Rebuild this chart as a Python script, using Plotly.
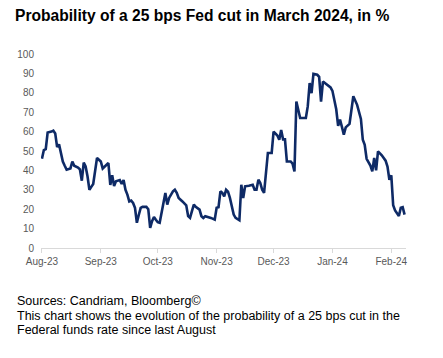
import plotly.graph_objects as go

title_text = "Probability of a 25 bps Fed cut in March 2024, in %"
footnotes = [
    "Sources: Candriam, Bloomberg©",
    "This chart shows the evolution of the probability of a 25 bps cut in the",
    "Federal funds rate since last August",
]

dates = [
    "2023-08-01", "2023-08-02", "2023-08-03", "2023-08-04", "2023-08-06", "2023-08-07", "2023-08-08",
    "2023-08-09", "2023-08-10", "2023-08-11", "2023-08-12", "2023-08-13", "2023-08-14", "2023-08-16",
    "2023-08-17", "2023-08-18", "2023-08-20", "2023-08-21", "2023-08-22", "2023-08-23", "2023-08-24",
    "2023-08-25", "2023-08-26", "2023-08-27", "2023-08-28", "2023-08-30", "2023-09-01", "2023-09-02",
    "2023-09-04", "2023-09-05", "2023-09-06", "2023-09-07", "2023-09-08", "2023-09-09", "2023-09-11",
    "2023-09-12", "2023-09-13", "2023-09-14", "2023-09-15", "2023-09-16", "2023-09-17", "2023-09-18",
    "2023-09-19", "2023-09-20", "2023-09-21", "2023-09-22", "2023-09-23", "2023-09-25", "2023-09-26",
    "2023-09-27", "2023-09-28", "2023-09-29", "2023-09-30", "2023-10-01", "2023-10-02", "2023-10-03",
    "2023-10-04", "2023-10-05", "2023-10-06", "2023-10-07", "2023-10-09", "2023-10-10", "2023-10-11",
    "2023-10-12", "2023-10-14", "2023-10-16", "2023-10-17", "2023-10-18", "2023-10-19", "2023-10-20",
    "2023-10-21", "2023-10-23", "2023-10-24", "2023-10-25", "2023-10-26", "2023-10-28", "2023-10-29",
    "2023-10-31", "2023-11-01", "2023-11-02", "2023-11-03", "2023-11-04", "2023-11-05", "2023-11-06",
    "2023-11-07", "2023-11-08", "2023-11-09", "2023-11-10", "2023-11-11", "2023-11-13", "2023-11-14",
    "2023-11-15", "2023-11-16", "2023-11-17", "2023-11-18", "2023-11-20", "2023-11-21", "2023-11-22",
    "2023-11-23", "2023-11-24", "2023-11-25", "2023-11-26", "2023-11-28", "2023-11-29", "2023-11-30",
    "2023-12-01", "2023-12-03", "2023-12-04", "2023-12-05", "2023-12-06", "2023-12-07", "2023-12-08",
    "2023-12-10", "2023-12-11", "2023-12-12", "2023-12-13", "2023-12-14", "2023-12-15", "2023-12-18",
    "2023-12-19", "2023-12-20", "2023-12-21", "2023-12-22", "2023-12-24", "2023-12-25", "2023-12-26",
    "2023-12-27", "2023-12-29", "2023-12-31", "2024-01-01", "2024-01-02", "2024-01-03", "2024-01-04",
    "2024-01-05", "2024-01-06", "2024-01-07", "2024-01-08", "2024-01-10", "2024-01-12", "2024-01-14",
    "2024-01-16", "2024-01-17", "2024-01-18", "2024-01-19", "2024-01-21", "2024-01-22", "2024-01-23",
    "2024-01-24", "2024-01-25", "2024-01-27", "2024-01-29", "2024-01-30", "2024-01-31", "2024-02-01",
    "2024-02-02", "2024-02-03", "2024-02-05", "2024-02-06", "2024-02-07", "2024-02-08",
]

probability = [
    46, 50.5, 51, 59.5, 60, 60.5, 59,
    52, 53.4, 49, 44.6, 42.4, 40.4, 41,
    44.6, 42.4, 41.5, 40.5, 34.7, 44, 42,
    37, 30, 31.5, 33, 46.4, 44.6, 41,
    43, 43.8, 32.5, 37.5, 32, 34.4, 35,
    33, 35, 30, 27.5, 24, 24.4, 23.2,
    20.7, 13, 17, 20.7, 21.2, 21.2, 20,
    10.4, 13.8, 16, 14.6, 13.3, 13, 18,
    25, 28.4, 22.4, 25.8, 29.2, 30, 28.4,
    25.8, 24, 22, 16.4, 15.5, 19, 22.4,
    21.2, 19.8, 16.4, 15.5, 16.4, 16, 15.5,
    14.6, 20.7, 21, 29.2, 28.4, 26.6, 30,
    29, 25.8, 20.7, 17.2, 15.5, 14.3, 32.6,
    25.8, 31.8, 31.8, 32.1, 32.6, 30, 30,
    35.2, 33.5, 30, 28.4, 49, 49, 49,
    60, 58, 55.8, 60.8, 56, 56, 44.6,
    44.6, 43.5, 39.5, 75.5, 71.2, 67, 67,
    73, 85, 79.8, 89.8, 89.3, 88.2, 75.5,
    85.8, 84.5, 82.8, 81, 77, 71.5, 63,
    66.2, 62.4, 58.4, 62.2, 64, 78.2, 73.8,
    66.5, 55.8, 53.2, 46, 42.5, 39.5, 46.4,
    40, 49.8, 47.8, 45, 42, 35.2, 37.5,
    22, 19.4, 16.5, 20.7, 21, 17.2,
]

y_ticks = [0, 10, 20, 30, 40, 50, 60, 70, 80, 90, 100]

W, H = 443, 358
L, R, T, B = 41, 37, 54, 110
pw, ph = W - L - R, H - T - B

fig = go.Figure()
fig.add_trace(go.Scatter(
    x=dates, y=probability, mode="lines",
    line=dict(color="#0e2a66", width=2.6),
    showlegend=False,
))

font_family = "Liberation Sans, Arial, sans-serif"

fig.update_layout(
    width=W, height=H,
    margin=dict(l=L, r=R, t=T, b=B),
    paper_bgcolor="white", plot_bgcolor="white",
    font=dict(family=font_family, size=10, color="#595959"),
    xaxis=dict(
        type="date", automargin=False,
        range=["2023-07-31 12:00", "2024-02-08 18:00"],
        tick0="2023-08-01", dtick="M1", tickformat="%b-%y",
        showgrid=False, zeroline=False,
        showline=True, linecolor="#d9d9d9", linewidth=1,
        ticks="outside", ticklen=4, tickcolor="#d9d9d9",
        tickfont=dict(size=10, color="#595959"),
        fixedrange=True,
    ),
    yaxis=dict(
        range=[0, 100], tickvals=y_ticks, automargin=False,
        showgrid=False, zeroline=False, showline=False,
        ticks="", ticklabelstandoff=6,
        tickfont=dict(size=10, color="#595959"),
        fixedrange=True,
    ),
)

def px_x(x):
    return (x - L) / pw

def px_y(y):
    return (H - B - y) / ph

annotations = [dict(
    text="<b>" + title_text + "</b>",
    xref="paper", yref="paper", x=px_x(13), y=px_y(5),
    xanchor="left", yanchor="top", showarrow=False,
    font=dict(family=font_family, size=15.6, color="black"),
)]
for i, line in enumerate(footnotes):
    annotations.append(dict(
        text=line, xref="paper", yref="paper",
        x=px_x(15), y=px_y(292 + 14.5 * i),
        xanchor="left", yanchor="top", showarrow=False,
        font=dict(family=font_family, size=12.5, color="black"),
    ))
fig.update_layout(annotations=annotations)

fig.write_html(
    "out.html",
    config={"displayModeBar": False, "staticPlot": True},
    post_script="document.body.style.margin='0';document.body.style.overflow='hidden';",
)
